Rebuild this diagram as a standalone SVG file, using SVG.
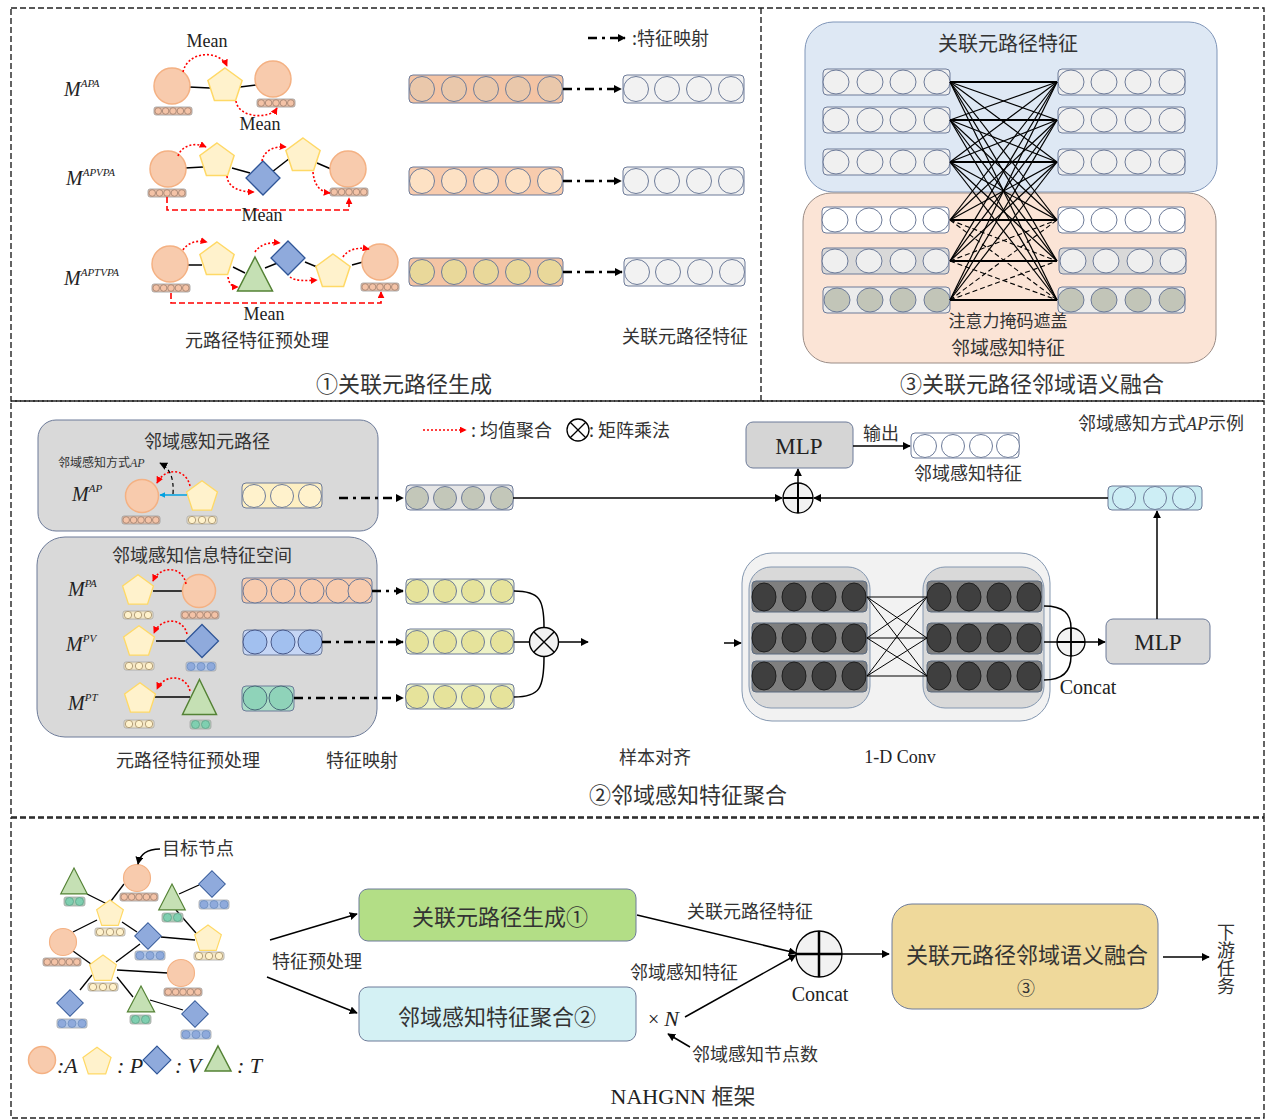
<svg xmlns="http://www.w3.org/2000/svg" xmlns:xlink="http://www.w3.org/1999/xlink" width="1266" height="1120" viewBox="0 0 1266 1120">
<style>
text{font-family:"Liberation Serif","Noto Sans CJK SC",serif;fill:#222}
.cn{font-family:"Noto Sans CJK SC","Liberation Serif",sans-serif;fill:#333}
.it{font-style:italic}
.sup{font-size:11px;font-style:italic}
.panel{fill:none;stroke:#222;stroke-width:1.4;stroke-dasharray:6 3}
.ln{stroke:#000;stroke-width:1.5;fill:none}
.dd{stroke:#000;stroke-width:2.5;stroke-dasharray:9 5 3 5;fill:none}
.rd{stroke:#ff0000;stroke-width:1.6;stroke-dasharray:2 2;fill:none}
.rdash{stroke:#ff0000;stroke-width:1.6;stroke-dasharray:6 3;fill:none}
.vb{stroke:#6d7b99;stroke-width:1}
.xl{stroke:#000;stroke-width:1.2}
.xh{stroke:#000;stroke-width:2.2}
.xd{stroke:#000;stroke-width:1.1;stroke-dasharray:5 3}
.cv{stroke:#000;stroke-width:1}
</style>
<defs>
<marker id="ar" viewBox="0 0 10 10" refX="9" refY="5" markerWidth="8" markerHeight="8" markerUnits="userSpaceOnUse" orient="auto"><path d="M0,0L10,5L0,10z" fill="#000"/></marker>
<marker id="arr" viewBox="0 0 10 10" refX="9" refY="5" markerWidth="7" markerHeight="7" markerUnits="userSpaceOnUse" orient="auto"><path d="M0,0L10,5L0,10z" fill="#ff0000"/></marker>
<marker id="arb" viewBox="0 0 10 10" refX="9" refY="5" markerWidth="6" markerHeight="6" markerUnits="userSpaceOnUse" orient="auto"><path d="M0,0L10,5L0,10z" fill="#00a0e0"/></marker>
<circle id="cA" r="18" fill="#f8cbad" stroke="#f4b183" stroke-width="1.5"/>
<polygon id="pP" points="0,-18 17.12,-5.56 10.58,14.56 -10.58,14.56 -17.12,-5.56" fill="#fff2cc" stroke="#ffd966" stroke-width="1.5"/>
<polygon id="dV" points="0,-17 17,0 0,17 -17,0" fill="#8faadc" stroke="#2f5597" stroke-width="1.3"/>
<polygon id="tT" points="0,-17 17.5,17 -17.5,17" fill="#c5e0b4" stroke="#548235" stroke-width="1.5"/>
<g id="bA"><rect width="38" height="8" rx="2" fill="#e6bda6" stroke="#9a9a9a" stroke-width="0.8"/><g fill="#f4c3a7" stroke="#a0806e" stroke-width="0.8"><circle cx="4.2" cy="4" r="3.3"/><circle cx="11.6" cy="4" r="3.3"/><circle cx="19" cy="4" r="3.3"/><circle cx="26.4" cy="4" r="3.3"/><circle cx="33.8" cy="4" r="3.3"/></g></g>
<g id="bP"><rect width="30" height="8" rx="2" fill="#f3e6c6" stroke="#a6a6a6" stroke-width="0.8"/><g fill="#fff2cc" stroke="#a08a66" stroke-width="0.8"><circle cx="5" cy="4" r="3.7"/><circle cx="15" cy="4" r="3.7"/><circle cx="25" cy="4" r="3.7"/></g></g>
<g id="bV"><rect width="30" height="9" rx="2" fill="#b4c7e7" stroke="#a6a6a6" stroke-width="0.8"/><g fill="#8faadc" stroke="#6f8fbf" stroke-width="0.8"><circle cx="5" cy="4.5" r="4"/><circle cx="15" cy="4.5" r="4"/><circle cx="25" cy="4.5" r="4"/></g></g>
<g id="bT"><rect width="21" height="9" rx="2" fill="#a9c9b4" stroke="#a6a6a6" stroke-width="0.8"/><g fill="#7fcfb0" stroke="#5fa58a" stroke-width="0.8"><circle cx="5.5" cy="4.5" r="4"/><circle cx="15.5" cy="4.5" r="4"/></g></g>
</defs>
<rect width="1266" height="1120" fill="#fff"/>

<g id="panels">
<rect class="panel" x="11" y="8" width="1253" height="393"/>
<line class="panel" x1="761" y1="8" x2="761" y2="401"/>
<rect class="panel" x="11" y="401" width="1253" height="416"/>
<rect class="panel" x="11" y="818" width="1253" height="300"/>
</g>

<!-- ================= PANEL 1 ================= -->
<g id="p1-row1">
<text x="64" y="96" class="it" font-size="20">M<tspan class="sup" dy="-9">APA</tspan></text>
<line class="ln" x1="189" y1="87" x2="210" y2="88"/>
<line class="ln" x1="240" y1="87" x2="256" y2="85"/>
<use href="#cA" x="172" y="86"/>
<use href="#pP" x="225" y="86"/>
<use href="#cA" x="273" y="79"/>
<use href="#bA" x="154" y="107"/>
<use href="#bA" x="257" y="99"/>
<path class="rd" d="M183,72 C188,50 220,50 227,66" marker-end="url(#arr)"/>
<path class="rd" d="M236,101 C238,118 270,120 277,108" marker-end="url(#arr)"/>
<text x="207" y="47" font-size="18" text-anchor="middle">Mean</text>
<text x="260" y="130" font-size="18" text-anchor="middle">Mean</text>
</g>

<g id="p1-row2">
<text x="66" y="185" class="it" font-size="20">M<tspan class="sup" dy="-9">APVPA</tspan></text>
<line class="ln" x1="185" y1="168" x2="203" y2="167"/>
<line class="ln" x1="232" y1="168" x2="250" y2="173"/>
<line class="ln" x1="272" y1="172" x2="290" y2="158"/>
<line class="ln" x1="317" y1="163" x2="331" y2="169"/>
<use href="#cA" x="168" y="169"/>
<use href="#pP" x="217" y="161"/>
<use href="#dV" x="263" y="178"/>
<use href="#pP" x="303" y="156"/>
<use href="#cA" x="348" y="169"/>
<use href="#bA" x="148" y="189"/>
<use href="#bA" x="330" y="188"/>
<path class="rd" d="M178,156 C182,145 195,142 206,147" marker-end="url(#arr)"/>
<path class="rd" d="M227,176 C228,188 240,192 254,192" marker-end="url(#arr)"/>
<path class="rd" d="M262,161 C264,150 275,146 286,147" marker-end="url(#arr)"/>
<path class="rd" d="M313,172 C314,185 320,192 330,193" marker-end="url(#arr)"/>
<path class="rdash" d="M167,197 V210 H349 V198" marker-end="url(#arr)"/>
<text x="262" y="221" font-size="18" text-anchor="middle">Mean</text>
</g>

<g id="p1-row3">
<text x="64" y="285" class="it" font-size="20">M<tspan class="sup" dy="-9">APTVPA</tspan></text>
<line class="ln" x1="187" y1="265" x2="202" y2="265" stroke-width="2.5"/>
<line class="ln" x1="233" y1="267" x2="245" y2="273"/>
<line class="ln" x1="265" y1="268" x2="280" y2="262"/>
<line class="ln" x1="305" y1="262" x2="317" y2="267"/>
<line class="ln" x1="352" y1="265" x2="363" y2="262"/>
<use href="#cA" x="170" y="264"/>
<use href="#pP" x="217" y="260"/>
<use href="#tT" x="255" y="274"/>
<use href="#dV" x="288" y="258"/>
<use href="#pP" x="333" y="272"/>
<use href="#cA" x="380" y="262"/>
<use href="#bA" x="152" y="284"/>
<use href="#bA" x="361" y="283"/>
<path class="rd" d="M183,250 C188,242 198,240 207,242" marker-end="url(#arr)"/>
<path class="rd" d="M228,277 C229,284 232,287 238,287" marker-end="url(#arr)"/>
<path class="rd" d="M255,252 C260,244 270,242 280,243" marker-end="url(#arr)"/>
<path class="rd" d="M290,277 C295,281 305,281 317,280" marker-end="url(#arr)"/>
<path class="rd" d="M343,257 C348,249 358,247 369,249" marker-end="url(#arr)"/>
<path class="rdash" d="M171,293 V303 H381 V292" marker-end="url(#arr)"/>
<text x="264" y="320" font-size="18" text-anchor="middle">Mean</text>
<text x="257" y="347" class="cn" font-size="18" text-anchor="middle">元路径特征预处理</text>
</g>

<g id="p1-vectors">
<line class="dd" x1="588" y1="38" x2="625" y2="38" stroke-width="2" marker-end="url(#ar)"/>
<text x="632" y="45" class="cn" font-size="18">:特征映射</text>
<rect x="409" y="75" width="154" height="28" rx="4" fill="#f4c4a4" class="vb"/>
<g fill="#eac8ab" class="vb"><circle cx="422" cy="89" r="12.5"/><circle cx="454" cy="89" r="12.5"/><circle cx="486" cy="89" r="12.5"/><circle cx="518" cy="89" r="12.5"/><circle cx="550" cy="89" r="12.5"/></g>
<rect x="623" y="75" width="121" height="28" rx="4" fill="#f2f2f2" class="vb"/>
<g fill="#f2f2f2" class="vb"><circle cx="636" cy="89" r="12.5"/><circle cx="667" cy="89" r="12.5"/><circle cx="699" cy="89" r="12.5"/><circle cx="731" cy="89" r="12.5"/></g>
<line class="dd" x1="563" y1="89" x2="621" y2="89" marker-end="url(#ar)"/>
<rect x="409" y="167" width="154" height="28" rx="4" fill="#f8cbad" class="vb"/>
<g fill="#fde1c4" class="vb"><circle cx="422" cy="181" r="12.5"/><circle cx="454" cy="181" r="12.5"/><circle cx="486" cy="181" r="12.5"/><circle cx="518" cy="181" r="12.5"/><circle cx="550" cy="181" r="12.5"/></g>
<rect x="623" y="167" width="121" height="28" rx="4" fill="#f2f2f2" class="vb"/>
<g fill="#f2f2f2" class="vb"><circle cx="636" cy="181" r="12.5"/><circle cx="667" cy="181" r="12.5"/><circle cx="699" cy="181" r="12.5"/><circle cx="731" cy="181" r="12.5"/></g>
<line class="dd" x1="563" y1="181" x2="621" y2="181" marker-end="url(#ar)"/>
<rect x="409" y="258" width="154" height="28" rx="4" fill="#f4c4a4" class="vb"/>
<g fill="#e9d89a" class="vb"><circle cx="422" cy="272" r="12.5"/><circle cx="454" cy="272" r="12.5"/><circle cx="486" cy="272" r="12.5"/><circle cx="518" cy="272" r="12.5"/><circle cx="550" cy="272" r="12.5"/></g>
<rect x="624" y="258" width="121" height="28" rx="4" fill="#f2f2f2" class="vb"/>
<g fill="#f2f2f2" class="vb"><circle cx="637" cy="272" r="12.5"/><circle cx="668" cy="272" r="12.5"/><circle cx="700" cy="272" r="12.5"/><circle cx="732" cy="272" r="12.5"/></g>
<line class="dd" x1="563" y1="272" x2="622" y2="272" marker-end="url(#ar)"/>
<text x="685" y="343" class="cn" font-size="18" text-anchor="middle">关联元路径特征</text>
<text x="404" y="392" class="cn" font-size="22" text-anchor="middle">①关联元路径生成</text>
</g>

<!-- ================= PANEL 3 ================= -->
<g id="p3-boxes">
<rect x="805" y="22" width="412" height="170" rx="28" fill="#dee8f4" stroke="#7f95b8" stroke-width="1"/>
<rect x="803" y="193" width="413" height="170" rx="28" fill="#fbe4d6" stroke="#9a8c86" stroke-width="1"/>
<text x="1008" y="51" class="cn" font-size="20" text-anchor="middle">关联元路径特征</text>
</g>
<g id="p3-bars">
<g class="vb" fill="#f0f0f0">
<rect x="823" y="69" width="127" height="26" rx="4"/><rect x="823" y="107" width="127" height="26" rx="4"/><rect x="823" y="149" width="127" height="26" rx="4"/>
<rect x="1058" y="69" width="127" height="26" rx="4"/><rect x="1058" y="107" width="127" height="26" rx="4"/><rect x="1058" y="149" width="127" height="26" rx="4"/>
</g>
<g class="vb" fill="#f0f0f0">
<ellipse cx="836" cy="82" rx="13" ry="12"/><ellipse cx="870" cy="82" rx="13" ry="12"/><ellipse cx="903" cy="82" rx="13" ry="12"/><ellipse cx="937" cy="82" rx="13" ry="12"/>
<ellipse cx="836" cy="120" rx="13" ry="12"/><ellipse cx="870" cy="120" rx="13" ry="12"/><ellipse cx="903" cy="120" rx="13" ry="12"/><ellipse cx="937" cy="120" rx="13" ry="12"/>
<ellipse cx="836" cy="162" rx="13" ry="12"/><ellipse cx="870" cy="162" rx="13" ry="12"/><ellipse cx="903" cy="162" rx="13" ry="12"/><ellipse cx="937" cy="162" rx="13" ry="12"/>
<ellipse cx="1071" cy="82" rx="13" ry="12"/><ellipse cx="1104" cy="82" rx="13" ry="12"/><ellipse cx="1138" cy="82" rx="13" ry="12"/><ellipse cx="1172" cy="82" rx="13" ry="12"/>
<ellipse cx="1071" cy="120" rx="13" ry="12"/><ellipse cx="1104" cy="120" rx="13" ry="12"/><ellipse cx="1138" cy="120" rx="13" ry="12"/><ellipse cx="1172" cy="120" rx="13" ry="12"/>
<ellipse cx="1071" cy="162" rx="13" ry="12"/><ellipse cx="1104" cy="162" rx="13" ry="12"/><ellipse cx="1138" cy="162" rx="13" ry="12"/><ellipse cx="1172" cy="162" rx="13" ry="12"/>
</g>
<g class="vb" fill="#ffffff">
<rect x="822" y="207" width="127" height="26" rx="4"/><rect x="1058" y="207" width="127" height="26" rx="4"/>
<ellipse cx="835" cy="220" rx="13" ry="12"/><ellipse cx="869" cy="220" rx="13" ry="12"/><ellipse cx="903" cy="220" rx="13" ry="12"/><ellipse cx="936" cy="220" rx="13" ry="12"/>
<ellipse cx="1071" cy="220" rx="13" ry="12"/><ellipse cx="1104" cy="220" rx="13" ry="12"/><ellipse cx="1138" cy="220" rx="13" ry="12"/><ellipse cx="1172" cy="220" rx="13" ry="12"/>
</g>
<g class="vb">
<rect x="822" y="248" width="127" height="26" rx="4" fill="#d9d9d9"/><rect x="1059" y="248" width="127" height="26" rx="4" fill="#d9d9d9"/>
<g fill="#efefef"><ellipse cx="835" cy="261" rx="13" ry="12"/><ellipse cx="869" cy="261" rx="13" ry="12"/><ellipse cx="903" cy="261" rx="13" ry="12"/><ellipse cx="936" cy="261" rx="13" ry="12"/>
<ellipse cx="1073" cy="261" rx="13" ry="12"/><ellipse cx="1106" cy="261" rx="13" ry="12"/><ellipse cx="1140" cy="261" rx="13" ry="12"/><ellipse cx="1173" cy="261" rx="13" ry="12"/></g>
</g>
<g class="vb">
<rect x="823" y="287" width="127" height="26" rx="4" fill="#ececec"/><rect x="1058" y="287" width="127" height="26" rx="4" fill="#ececec"/>
<g fill="#c2c5b8"><ellipse cx="837" cy="300" rx="13" ry="12"/><ellipse cx="870" cy="300" rx="13" ry="12"/><ellipse cx="903" cy="300" rx="13" ry="12"/><ellipse cx="937" cy="300" rx="13" ry="12"/>
<ellipse cx="1071" cy="300" rx="13" ry="12"/><ellipse cx="1104" cy="300" rx="13" ry="12"/><ellipse cx="1138" cy="300" rx="13" ry="12"/><ellipse cx="1172" cy="300" rx="13" ry="12"/></g>
</g>
</g>
<g id="p3-links">
<line class="xh" x1="950" y1="82" x2="1057" y2="82"/><line class="xh" x1="950" y1="120" x2="1057" y2="120"/><line class="xh" x1="950" y1="162" x2="1057" y2="162"/>
<line class="xh" x1="950" y1="220" x2="1057" y2="220"/><line class="xh" x1="950" y1="261" x2="1057" y2="261"/><line class="xh" x1="950" y1="300" x2="1057" y2="300"/>
<line class="xl" x1="950" y1="82" x2="1057" y2="120"/><line class="xl" x1="950" y1="82" x2="1057" y2="162"/><line class="xl" x1="950" y1="82" x2="1057" y2="220"/><line class="xl" x1="950" y1="82" x2="1057" y2="261"/><line class="xl" x1="950" y1="82" x2="1057" y2="300"/>
<line class="xl" x1="950" y1="120" x2="1057" y2="82"/><line class="xl" x1="950" y1="120" x2="1057" y2="162"/><line class="xl" x1="950" y1="120" x2="1057" y2="220"/><line class="xl" x1="950" y1="120" x2="1057" y2="261"/><line class="xl" x1="950" y1="120" x2="1057" y2="300"/>
<line class="xl" x1="950" y1="162" x2="1057" y2="82"/><line class="xl" x1="950" y1="162" x2="1057" y2="120"/><line class="xl" x1="950" y1="162" x2="1057" y2="220"/><line class="xl" x1="950" y1="162" x2="1057" y2="261"/><line class="xl" x1="950" y1="162" x2="1057" y2="300"/>
<line class="xl" x1="950" y1="220" x2="1057" y2="82"/><line class="xl" x1="950" y1="220" x2="1057" y2="120"/><line class="xl" x1="950" y1="220" x2="1057" y2="162"/>
<line class="xl" x1="950" y1="261" x2="1057" y2="82"/><line class="xl" x1="950" y1="261" x2="1057" y2="120"/><line class="xl" x1="950" y1="261" x2="1057" y2="162"/>
<line class="xl" x1="950" y1="300" x2="1057" y2="82"/><line class="xl" x1="950" y1="300" x2="1057" y2="120"/><line class="xl" x1="950" y1="300" x2="1057" y2="162"/>
<line class="xd" x1="950" y1="220" x2="1057" y2="261"/><line class="xd" x1="950" y1="220" x2="1057" y2="300"/>
<line class="xd" x1="950" y1="261" x2="1057" y2="220"/><line class="xd" x1="950" y1="261" x2="1057" y2="300"/>
<line class="xd" x1="950" y1="300" x2="1057" y2="220"/><line class="xd" x1="950" y1="300" x2="1057" y2="261"/>
</g>
<g id="p3-labels">
<text x="1008" y="327" class="cn" font-size="17" text-anchor="middle">注意力掩码遮盖</text>
<text x="1008" y="355" class="cn" font-size="19" text-anchor="middle">邻域感知特征</text>
<text x="1032" y="392" class="cn" font-size="22" text-anchor="middle">③关联元路径邻域语义融合</text>
</g>

<!-- ================= PANEL 2 ================= -->
<g id="p2-legend">
<line class="rd" x1="423" y1="430" x2="466" y2="430" stroke-width="2" marker-end="url(#arr)"/>
<text x="471" y="437" class="cn" font-size="18">: 均值聚合</text>
<circle cx="578" cy="430" r="11" fill="#fff" stroke="#000" stroke-width="1.3"/>
<path d="M570.2,422.2L585.8,437.8M585.8,422.2L570.2,437.8" stroke="#000" stroke-width="1.3"/>
<text x="589" y="437" class="cn" font-size="18">: 矩阵乘法</text>
</g>

<g id="p2-ap">
<rect x="38" y="420" width="340" height="111" rx="18" fill="#d9d9d9" stroke="#6d7b99" stroke-width="1"/>
<text x="207" y="448" class="cn" font-size="18" text-anchor="middle">邻域感知元路径</text>
<text x="58" y="467" class="cn" font-size="12">邻域感知方式<tspan class="it" font-family="Liberation Serif">AP</tspan></text>
<text x="72" y="501" class="it" font-size="20">M<tspan class="sup" dy="-9">AP</tspan></text>
<circle cx="142" cy="496" r="16.5" fill="#f8cbad" stroke="#f4b183" stroke-width="1.5"/>
<use href="#pP" transform="translate(202,497) scale(0.9)"/>
<line x1="187" y1="495" x2="160" y2="495" stroke="#00a0e0" stroke-width="1.5" marker-end="url(#arb)"/>
<path class="rd" d="M190,486 C186,468 165,467 157,483" marker-end="url(#arr)"/>
<path d="M173,494 C174,478 170,468 160,463" fill="none" stroke="#000" stroke-width="1.2" stroke-dasharray="4 3" marker-end="url(#ar)"/>
<use href="#bA" x="122" y="516"/>
<use href="#bP" x="187" y="516"/>
<rect x="242" y="483" width="80" height="25" rx="4" fill="#fdefc2" class="vb"/>
<g fill="#fff2cc" class="vb"><circle cx="254" cy="496" r="11.5"/><circle cx="282" cy="496" r="11.5"/><circle cx="310" cy="496" r="11.5"/></g>
<line class="dd" x1="339" y1="498" x2="403" y2="498" marker-end="url(#ar)"/>
</g>

<g id="p2-space">
<rect x="37" y="537" width="340" height="200" rx="28" fill="#d9d9d9" stroke="#6d7b99" stroke-width="1"/>
<text x="202" y="562" class="cn" font-size="18" text-anchor="middle">邻域感知信息特征空间</text>
<text x="68" y="596" class="it" font-size="20">M<tspan class="sup" dy="-9">PA</tspan></text>
<line class="ln" x1="153" y1="591" x2="183" y2="591" stroke-width="2"/>
<use href="#pP" transform="translate(138,591) scale(0.9)"/>
<circle cx="199" cy="591" r="16.5" fill="#f8cbad" stroke="#f4b183" stroke-width="1.5"/>
<path class="rd" d="M186,584 C183,566 160,565 153,581" marker-end="url(#arr)"/>
<use href="#bP" x="123" y="611"/>
<use href="#bA" x="181" y="611"/>
<text x="66" y="651" class="it" font-size="20">M<tspan class="sup" dy="-9">PV</tspan></text>
<line class="ln" x1="156" y1="641" x2="185" y2="641" stroke-width="2"/>
<use href="#pP" transform="translate(139,642) scale(0.9)"/>
<use href="#dV" transform="translate(202,641) scale(0.97)"/>
<path class="rd" d="M187,634 C183,617 161,617 154,633" marker-end="url(#arr)"/>
<use href="#bP" x="124" y="662"/>
<use href="#bV" x="186" y="662"/>
<text x="68" y="710" class="it" font-size="20">M<tspan class="sup" dy="-9">PT</tspan></text>
<line class="ln" x1="154" y1="697" x2="190" y2="697" stroke-width="1.5"/>
<use href="#pP" transform="translate(140,699) scale(0.9)"/>
<use href="#tT" transform="translate(199.5,697) scale(0.97,1.03)"/>
<path class="rd" d="M190,691 C186,674 164,674 157,689" marker-end="url(#arr)"/>
<use href="#bP" x="124" y="720"/>
<use href="#bT" x="190" y="720"/>
<rect x="242" y="578" width="130" height="25" rx="4" fill="#f8cbad" class="vb"/>
<g fill="#f8cbad" class="vb"><circle cx="255" cy="591" r="12"/><circle cx="283" cy="591" r="12"/><circle cx="312" cy="591" r="12"/><circle cx="338" cy="591" r="12"/><circle cx="360" cy="591" r="12"/></g>
<rect x="243" y="630" width="79" height="25" rx="4" fill="#c6d6f5" class="vb"/>
<g fill="#a2c0ef" stroke="#4a5a8a" stroke-width="1"><circle cx="255" cy="642" r="12"/><circle cx="283" cy="642" r="12"/><circle cx="310" cy="642" r="12"/></g>
<rect x="242" y="686" width="52" height="25" rx="4" fill="#a9dcc6" class="vb"/>
<g fill="#8fd3b9" stroke="#4a6a7a" stroke-width="1"><circle cx="255" cy="698" r="12"/><circle cx="281" cy="698" r="12"/></g>
<line class="dd" x1="372" y1="591" x2="403" y2="591" marker-end="url(#ar)"/>
<line class="dd" x1="322" y1="642" x2="403" y2="642" marker-end="url(#ar)"/>
<line class="dd" x1="294" y1="698" x2="403" y2="698" marker-end="url(#ar)"/>
</g>

<g id="p2-mapped">
<rect x="406" y="485" width="107" height="25" rx="4" fill="#e6e6e6" class="vb"/>
<g fill="#c3c7b9" class="vb"><circle cx="417" cy="498" r="11.5"/><circle cx="445" cy="498" r="11.5"/><circle cx="473" cy="498" r="11.5"/><circle cx="502" cy="498" r="11.5"/></g>
<rect x="406" y="579" width="108" height="25" rx="4" fill="#eef2c6" class="vb"/>
<g fill="#e6e39b" class="vb"><circle cx="417" cy="591" r="11.5"/><circle cx="445" cy="591" r="11.5"/><circle cx="473" cy="591" r="11.5"/><circle cx="502" cy="591" r="11.5"/></g>
<rect x="406" y="629" width="108" height="25" rx="4" fill="#eef2c6" class="vb"/>
<g fill="#e6e39b" class="vb"><circle cx="417" cy="642" r="11.5"/><circle cx="445" cy="642" r="11.5"/><circle cx="473" cy="642" r="11.5"/><circle cx="502" cy="642" r="11.5"/></g>
<rect x="406" y="684" width="108" height="25" rx="4" fill="#eef2c6" class="vb"/>
<g fill="#e6e39b" class="vb"><circle cx="417" cy="697" r="11.5"/><circle cx="445" cy="697" r="11.5"/><circle cx="473" cy="697" r="11.5"/><circle cx="502" cy="697" r="11.5"/></g>
</g>

<g id="p2-otimes">
<circle cx="544" cy="642" r="14.5" fill="#f2f2f2" stroke="#000" stroke-width="1.4"/>
<path d="M533.7,631.7L554.3,652.3M554.3,631.7L533.7,652.3" stroke="#000" stroke-width="1.4"/>
</g>

<g id="p2-conv">
<rect x="742" y="553" width="308" height="168" rx="30" fill="#f2f2f2" stroke="#8497b0" stroke-width="1"/>
<rect x="749" y="567" width="121" height="141" rx="22" fill="#d9d9d9" stroke="#8497b0" stroke-width="1"/>
<rect x="923" y="567" width="121" height="141" rx="22" fill="#d9d9d9" stroke="#8497b0" stroke-width="1"/>
<g fill="#7f7f7f" stroke="#5a6a80" stroke-width="1">
<rect x="752" y="581" width="115" height="31" rx="4"/><rect x="752" y="623" width="115" height="31" rx="4"/><rect x="752" y="661" width="115" height="31" rx="4"/>
<rect x="927" y="581" width="115" height="31" rx="4"/><rect x="927" y="623" width="115" height="31" rx="4"/><rect x="927" y="661" width="115" height="31" rx="4"/>
</g>
<g fill="#3f3f3f" stroke="#1f1f1f" stroke-width="1">
<ellipse cx="764" cy="597" rx="12" ry="14"/><ellipse cx="794" cy="597" rx="12" ry="14"/><ellipse cx="824" cy="597" rx="12" ry="14"/><ellipse cx="854" cy="597" rx="12" ry="14"/>
<ellipse cx="764" cy="638" rx="12" ry="14"/><ellipse cx="794" cy="638" rx="12" ry="14"/><ellipse cx="824" cy="638" rx="12" ry="14"/><ellipse cx="854" cy="638" rx="12" ry="14"/>
<ellipse cx="764" cy="676" rx="12" ry="14"/><ellipse cx="794" cy="676" rx="12" ry="14"/><ellipse cx="824" cy="676" rx="12" ry="14"/><ellipse cx="854" cy="676" rx="12" ry="14"/>
<ellipse cx="939" cy="597" rx="12" ry="14"/><ellipse cx="969" cy="597" rx="12" ry="14"/><ellipse cx="999" cy="597" rx="12" ry="14"/><ellipse cx="1029" cy="597" rx="12" ry="14"/>
<ellipse cx="939" cy="638" rx="12" ry="14"/><ellipse cx="969" cy="638" rx="12" ry="14"/><ellipse cx="999" cy="638" rx="12" ry="14"/><ellipse cx="1029" cy="638" rx="12" ry="14"/>
<ellipse cx="939" cy="676" rx="12" ry="14"/><ellipse cx="969" cy="676" rx="12" ry="14"/><ellipse cx="999" cy="676" rx="12" ry="14"/><ellipse cx="1029" cy="676" rx="12" ry="14"/>
</g>
<g class="cv">
<line x1="867" y1="597" x2="927" y2="597"/><line x1="867" y1="597" x2="927" y2="638"/><line x1="867" y1="597" x2="927" y2="676"/>
<line x1="867" y1="638" x2="927" y2="597"/><line x1="867" y1="638" x2="927" y2="638"/><line x1="867" y1="638" x2="927" y2="676"/>
<line x1="867" y1="676" x2="927" y2="597"/><line x1="867" y1="676" x2="927" y2="638"/><line x1="867" y1="676" x2="927" y2="676"/>
</g>
</g>

<g id="p2-concat">
<circle cx="1071" cy="642" r="14" fill="#f2f2f2" stroke="#000" stroke-width="1.3"/>
<path d="M1057,642H1085M1071,628V656" stroke="#000" stroke-width="1.8"/>
<text x="1088" y="694" font-size="20" text-anchor="middle">Concat</text>
</g>

<g id="p2-mlp2">
<rect x="1106" y="619" width="104" height="45" rx="7" fill="#d9d9d9" stroke="#6d7b99" stroke-width="1"/>
<text x="1158" y="650" font-size="23" text-anchor="middle">MLP</text>
</g>
<g id="p2-cyan">
<rect x="1108" y="486" width="94" height="24" rx="4" fill="#c9ecf2" class="vb"/>
<g fill="#cdeef5" class="vb"><circle cx="1124" cy="498" r="11.5"/><circle cx="1155" cy="498" r="11.5"/><circle cx="1184" cy="498" r="11.5"/></g>
</g>
<g id="p2-oplus">
<circle cx="798" cy="498" r="15" fill="#f2f2f2" stroke="#000" stroke-width="1.3"/>
<path d="M783,498H813M798,483V513" stroke="#000" stroke-width="2"/>
</g>
<g id="p2-mlp1">
<rect x="746" y="422" width="107" height="46" rx="7" fill="#d5d5d5" stroke="#6d7b99" stroke-width="1"/>
<text x="799" y="454" font-size="23" text-anchor="middle">MLP</text>
</g>
<g id="p2-out">
<rect x="911" y="433" width="108" height="25" rx="4" fill="#fff" class="vb"/>
<g fill="#fff" class="vb"><circle cx="925" cy="446" r="11.5"/><circle cx="953" cy="446" r="11.5"/><circle cx="981" cy="446" r="11.5"/><circle cx="1008" cy="446" r="11.5"/></g>
</g>

<g id="p2-connectors">
<line class="ln" x1="513" y1="498" x2="782" y2="498" marker-end="url(#ar)"/>
<line class="ln" x1="1108" y1="498" x2="814" y2="498" marker-end="url(#ar)"/>
<line class="ln" x1="798" y1="483" x2="798" y2="469" marker-end="url(#ar)"/>
<line class="ln" x1="853" y1="446" x2="910" y2="446" marker-end="url(#ar)"/>
<path class="ln" d="M514,591 C540,591 544,600 544,627"/>
<path class="ln" d="M514,697 C540,697 544,688 544,657"/>
<line class="ln" x1="514" y1="642" x2="529" y2="642"/>
<line class="ln" x1="558" y1="642" x2="588" y2="642" marker-end="url(#ar)"/>
<line class="ln" x1="724" y1="643" x2="741" y2="643" marker-end="url(#ar)"/>
<path class="ln" d="M1044,606 C1064,606 1071,614 1071,628"/>
<path class="ln" d="M1044,680 C1064,680 1071,670 1071,656"/>
<line class="ln" x1="1044" y1="642" x2="1057" y2="642"/>
<line class="ln" x1="1085" y1="642" x2="1105" y2="642" marker-end="url(#ar)"/>
<line class="ln" x1="1157" y1="619" x2="1157" y2="511" marker-end="url(#ar)"/>
</g>

<g id="p2-labels">
<text x="881" y="440" class="cn" font-size="18" text-anchor="middle">输出</text>
<text x="968" y="480" class="cn" font-size="18" text-anchor="middle">邻域感知特征</text>
<text x="1078" y="430" class="cn" font-size="18">邻域感知方式<tspan class="it" font-family="Liberation Serif">AP</tspan>示例</text>
<text x="188" y="767" class="cn" font-size="18" text-anchor="middle">元路径特征预处理</text>
<text x="362" y="767" class="cn" font-size="18" text-anchor="middle">特征映射</text>
<text x="655" y="764" class="cn" font-size="18" text-anchor="middle">样本对齐</text>
<text x="900" y="763" font-size="18" text-anchor="middle">1-D Conv</text>
<text x="688" y="803" class="cn" font-size="22" text-anchor="middle">②邻域感知特征聚合</text>
</g>

<!-- ================= BOTTOM ================= -->
<g id="b-graph-edges" stroke="#000" stroke-width="1.3">
<line x1="87" y1="894" x2="107" y2="904"/>
<line x1="124" y1="884" x2="111" y2="901"/>
<line x1="179" y1="894" x2="199" y2="885"/>
<line x1="176" y1="910" x2="196" y2="933"/>
<line x1="122" y1="922" x2="137" y2="932"/>
<line x1="97" y1="920" x2="73" y2="932"/>
<line x1="161" y1="937" x2="195" y2="940"/>
<line x1="73" y1="951" x2="91" y2="964"/>
<line x1="116" y1="962" x2="140" y2="944"/>
<line x1="117" y1="970" x2="168" y2="973"/>
<line x1="92" y1="975" x2="80" y2="990"/>
<line x1="117" y1="977" x2="133" y2="997"/>
<line x1="150" y1="1000" x2="183" y2="1010"/>
</g>
<g id="b-graph-nodes">
<use href="#tT" transform="translate(74,881) scale(0.76)"/>
<use href="#bT" x="64" y="897"/>
<use href="#cA" transform="translate(137,878) scale(0.75)"/>
<use href="#bA" x="120" y="893"/>
<use href="#tT" transform="translate(172,897) scale(0.76)"/>
<use href="#bT" x="162" y="913"/>
<use href="#dV" transform="translate(212,884) scale(0.78)"/>
<use href="#bV" x="199" y="900"/>
<use href="#pP" transform="translate(110,914) scale(0.78)"/>
<use href="#bP" x="95" y="928"/>
<use href="#cA" transform="translate(63,942) scale(0.75)"/>
<use href="#bA" x="43" y="958"/>
<use href="#dV" transform="translate(148,936) scale(0.78)"/>
<use href="#bV" x="135" y="951"/>
<use href="#pP" transform="translate(208,939) scale(0.78)"/>
<use href="#bP" x="194" y="952"/>
<use href="#pP" transform="translate(103,969) scale(0.78)"/>
<use href="#bP" x="88" y="983"/>
<use href="#cA" transform="translate(181,973) scale(0.75)"/>
<use href="#bA" x="164" y="988"/>
<use href="#dV" transform="translate(70,1003) scale(0.78)"/>
<use href="#bV" x="57" y="1019"/>
<use href="#tT" transform="translate(141,999) scale(0.78,0.76)"/>
<use href="#bT" x="130" y="1015"/>
<use href="#dV" transform="translate(195,1014) scale(0.78)"/>
<use href="#bV" x="181" y="1030"/>
</g>
<g id="b-target">
<text x="162" y="855" class="cn" font-size="18">目标节点</text>
<path class="ln" d="M160,849 C148,849 140,854 138,864" stroke-width="1.2" marker-end="url(#ar)"/>
</g>
<g id="b-legend">
<circle cx="42" cy="1060" r="13.5" fill="#f8cbad" stroke="#f4b183" stroke-width="1.5"/>
<text x="57" y="1073" class="it" font-size="22">:A</text>
<use href="#pP" transform="translate(97,1062) scale(0.82)"/>
<text x="117" y="1073" class="it" font-size="22">: P</text>
<use href="#dV" transform="translate(157,1060) scale(0.82)"/>
<text x="175" y="1073" class="it" font-size="22">: V</text>
<polygon points="218,1046 231,1071 205,1071" fill="#c5e0b4" stroke="#548235" stroke-width="1.5"/>
<text x="237" y="1073" class="it" font-size="22">: T</text>
</g>
<g id="b-box1">
<rect x="359" y="889" width="277" height="52" rx="9" fill="#b3de86" stroke="#6d7b99" stroke-width="1"/>
<text x="500" y="925" class="cn" font-size="22" text-anchor="middle">关联元路径生成①</text>
</g>
<g id="b-box2">
<rect x="359" y="987" width="277" height="54" rx="9" fill="#d4f1f4" stroke="#6d7b99" stroke-width="1"/>
<text x="497" y="1025" class="cn" font-size="22" text-anchor="middle">邻域感知特征聚合②</text>
</g>
<g id="b-oplus">
<circle cx="819" cy="954" r="23" fill="#f2f2f2" stroke="#000" stroke-width="1.3"/>
<path d="M796,954H842M819,931V977" stroke="#000" stroke-width="2.5"/>
<text x="820" y="1001" font-size="20" text-anchor="middle">Concat</text>
</g>
<g id="b-box3">
<rect x="892" y="904" width="266" height="105" rx="20" fill="#efd99b" stroke="#6d7b99" stroke-width="1"/>
<text x="1027" y="963" class="cn" font-size="22" text-anchor="middle">关联元路径邻域语义融合</text>
<text x="1026" y="995" class="cn" font-size="18" text-anchor="middle">③</text>
</g>
<g id="b-connectors">
<line class="ln" x1="270" y1="940" x2="357" y2="914" marker-end="url(#ar)"/>
<line class="ln" x1="267" y1="977" x2="357" y2="1013" marker-end="url(#ar)"/>
<line class="ln" x1="637" y1="915" x2="796" y2="953" marker-end="url(#ar)"/>
<line class="ln" x1="685" y1="1017" x2="796" y2="955" marker-end="url(#ar)"/>
<line class="ln" x1="842" y1="954" x2="889" y2="954" marker-end="url(#ar)"/>
<line class="ln" x1="1163" y1="957" x2="1209" y2="957" marker-end="url(#ar)"/>
<line class="ln" x1="690" y1="1047" x2="668" y2="1034" marker-end="url(#ar)"/>
</g>
<g id="b-labels">
<text x="317" y="968" class="cn" font-size="18" text-anchor="middle">特征预处理</text>
<text x="750" y="918" class="cn" font-size="18" text-anchor="middle">关联元路径特征</text>
<text x="684" y="979" class="cn" font-size="18" text-anchor="middle">邻域感知特征</text>
<text x="648" y="1026" font-size="20">× <tspan class="it" font-size="22">N</tspan></text>
<text x="755" y="1061" class="cn" font-size="18" text-anchor="middle">邻域感知节点数</text>
<text x="683" y="1104" font-size="22" text-anchor="middle">NAHGNN <tspan class="cn">框架</tspan></text>
<text x="1226" y="923" class="cn" font-size="18" writing-mode="vertical-rl">下游任务</text>
</g>
</svg>
